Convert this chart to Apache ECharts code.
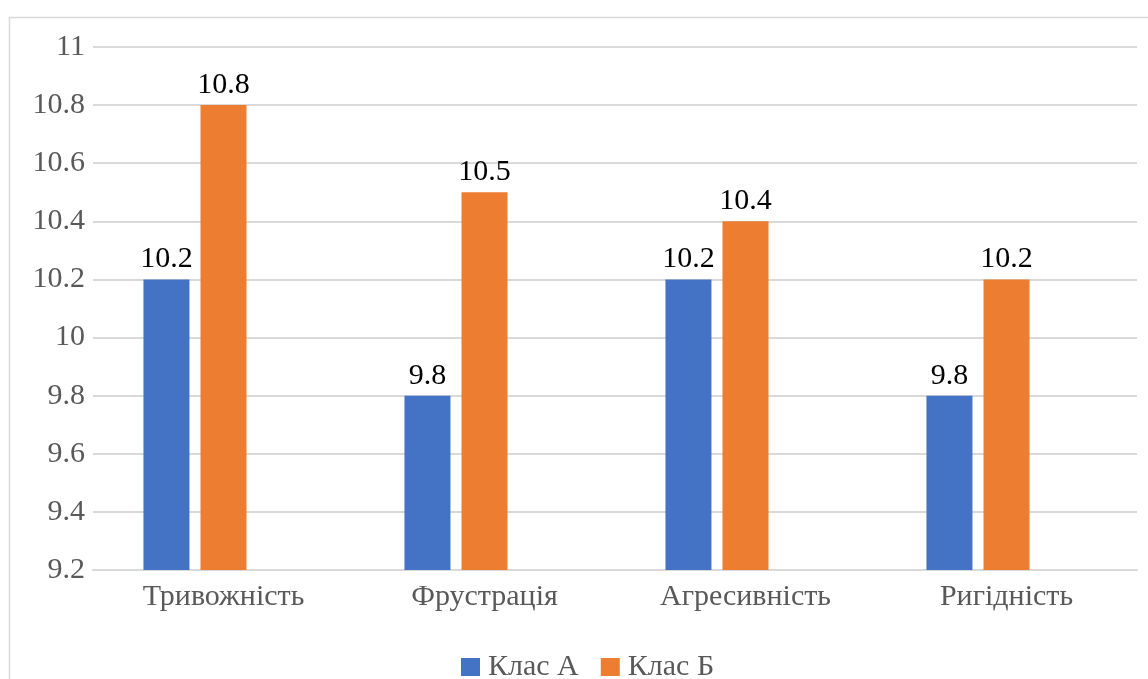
<!DOCTYPE html>
<html>
<head>
<meta charset="utf-8">
<script src="https://cdn.jsdelivr.net/npm/echarts@6/dist/echarts.min.js"></script>
<style>
  html, body { margin: 0; padding: 0; background: #fff; }
  #chart { width: 1148px; height: 679px; }
</style>
</head>
<body>
<div id="chart"></div>
<script>
// Categories and values
const categories = ['Тривожність', 'Фрустрація', 'Агресивність', 'Ригідність'];
const seriesNames = ['Клас А', 'Клас Б'];
const classA = [10.2, 9.8, 10.2, 9.8];
const classB = [10.8, 10.5, 10.4, 10.2];
const yMin = 9.2, yMax = 11, yStep = 0.2;

const FONT = '"Liberation Serif", "Times New Roman", serif';
const colors = ['#4472C4', '#ED7D31'];

const chart = echarts.init(document.getElementById('chart'), null, { renderer: 'canvas' });

const labelStyle = {
  show: true,
  position: 'top',
  distance: 5,
  color: '#000',
  fontFamily: FONT,
  fontSize: 30,
  formatter: p => String(p.value)
};

chart.setOption({
  animation: false,
  backgroundColor: '#fff',
  graphic: [{
    type: 'rect',
    shape: { x: 9.5, y: 17.5, width: 1160, height: 700 },
    style: { fill: 'none', stroke: '#d9d9d9', lineWidth: 1.5 },
    silent: true,
    z: -1
  }],
  grid: { left: 93, right: 11, top: 47, bottom: 109, containLabel: false },
  legend: {
    data: seriesNames,
    left: 456,
    top: 647,
    itemWidth: 19,
    itemHeight: 18,
    itemGap: 22,
    icon: 'rect',
    textStyle: { color: '#595959', fontFamily: FONT, fontSize: 30, padding: [0, 0, 0, 3] }
  },
  xAxis: {
    type: 'category',
    data: categories,
    axisLine: { show: true, lineStyle: { color: '#d9d9d9', width: 2 } },
    axisTick: { show: false },
    axisLabel: { color: '#595959', fontFamily: FONT, fontSize: 30, margin: 12 }
  },
  yAxis: {
    type: 'value',
    min: yMin,
    max: yMax,
    interval: yStep,
    axisLine: { show: false },
    axisTick: { show: false },
    splitLine: { lineStyle: { color: '#d9d9d9', width: 2 } },
    axisLabel: {
      color: '#595959', fontFamily: FONT, fontSize: 30, margin: 8,
      formatter: v => String(+v.toFixed(1))
    }
  },
  series: [
    {
      name: seriesNames[0], type: 'bar', data: classA,
      barWidth: 46, barGap: '24%',
      itemStyle: { color: colors[0] }, label: labelStyle
    },
    {
      name: seriesNames[1], type: 'bar', data: classB,
      barWidth: 46, barGap: '24%',
      itemStyle: { color: colors[1] }, label: labelStyle
    },
    {
      // empty slot that keeps the pair offset within each category
      name: 'slot', type: 'bar', data: categories.map(() => '-'),
      barWidth: 46, barGap: '24%', silent: true
    }
  ]
});
</script>
</body>
</html>
